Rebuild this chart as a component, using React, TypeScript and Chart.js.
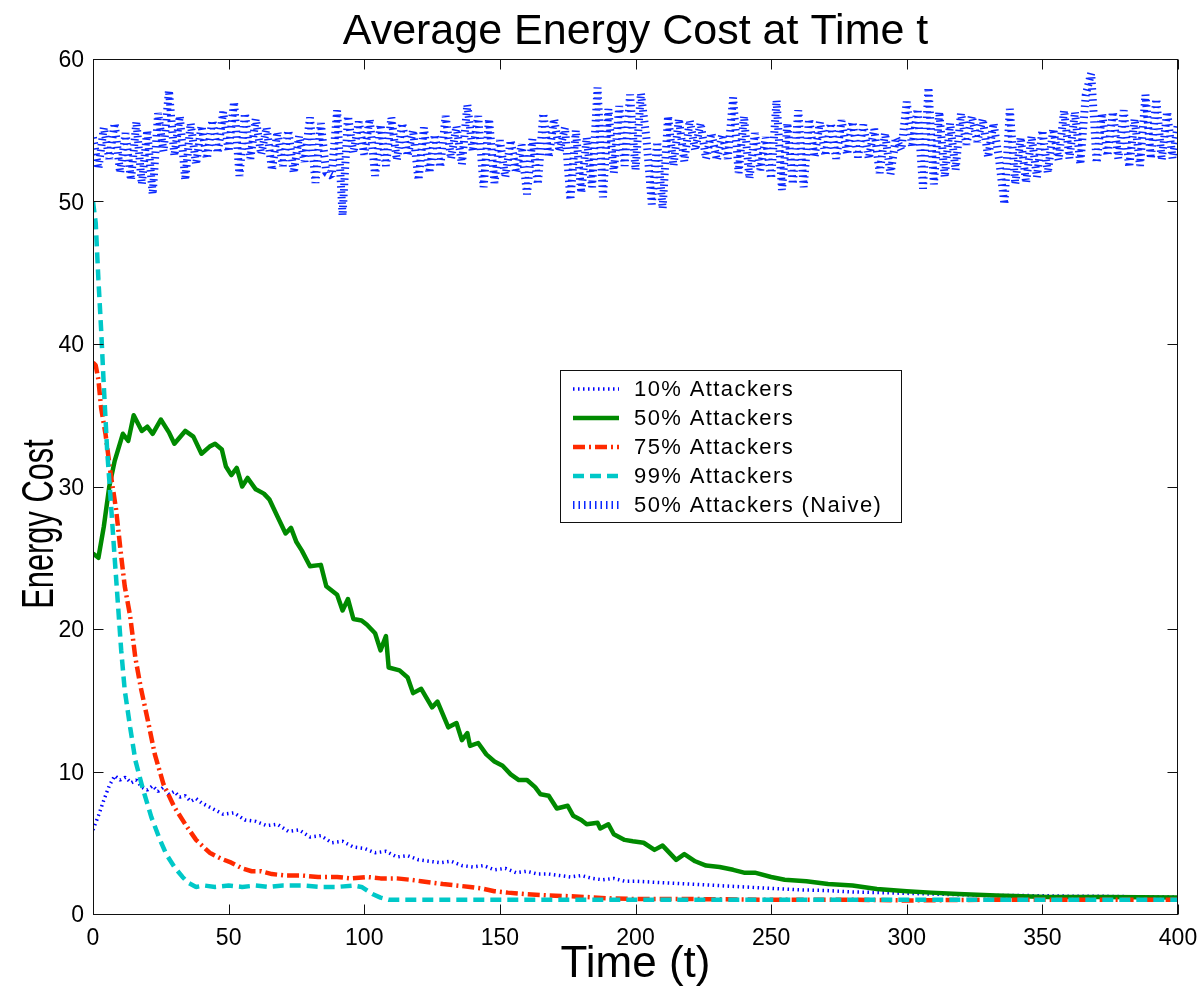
import React, { useEffect, useRef } from 'react';
import { Chart, registerables } from 'chart.js';

Chart.register(...registerables);

const TITLE = 'Average Energy Cost at Time t';
const X_LABEL = 'Time (t)';
const Y_LABEL = 'Energy Cost';
const X_TICKS = [0, 50, 100, 150, 200, 250, 300, 350, 400];
const Y_TICKS = [0, 10, 20, 30, 40, 50, 60];
const SERIES_NAMES = ['10% Attackers', '50% Attackers', '75% Attackers', '99% Attackers', '50% Attackers (Naive)'];

// 10% attackers
const t10 = [0, 2, 4, 6, 8, 10, 12, 14, 16, 18, 20, 22, 24, 26, 28, 30, 32, 34, 36, 38, 40,
  44, 48, 52, 56, 60, 64, 68, 72, 76, 80, 84, 88, 92, 96, 100,
  104, 108, 112, 116, 120, 124, 128, 132, 136, 140, 144, 148, 152, 156, 160, 164, 168, 172, 176, 180, 184, 188, 192, 196, 200,
  210, 220, 230, 240, 250, 260, 270, 280, 290, 300, 310, 320, 330, 340, 350, 360, 370, 380, 390, 400];
const v10 = [5.9, 6.9, 8.0, 9.0, 9.7, 9.4, 9.6, 9.2, 9.4, 8.9, 8.7, 9.0, 8.6, 8.9, 8.4, 8.6, 8.2, 8.3, 7.9, 8.1, 7.8,
  7.4, 7.0, 7.1, 6.6, 6.5, 6.2, 6.3, 5.8, 5.9, 5.4, 5.5, 5.0, 5.1, 4.7, 4.6,
  4.3, 4.4, 4.0, 4.1, 3.8, 3.7, 3.6, 3.7, 3.4, 3.3, 3.4, 3.1, 3.2, 2.9, 3.0, 2.8, 2.8, 2.7, 2.6, 2.7, 2.5, 2.4, 2.5, 2.3, 2.3,
  2.2, 2.1, 2.0, 1.9, 1.8, 1.7, 1.65, 1.55, 1.5, 1.45, 1.4, 1.35, 1.3, 1.3, 1.28, 1.25, 1.25, 1.22, 1.2, 1.2];

// 50% attackers
const t50 = [0, 2, 4, 6, 8, 11, 13, 15, 18, 20, 22, 25, 28, 30, 34, 37, 40, 43, 45, 47.5, 49, 51, 53, 55, 57, 60, 63, 65, 68, 71, 73, 75, 77, 80, 84, 86, 90, 92, 94, 96, 99, 101, 104, 106, 108, 109, 113, 116, 118, 121, 125, 127, 131, 134, 136, 138, 139, 142, 145, 148, 151, 154, 157, 160, 163, 165, 168, 171, 175, 177, 180, 182, 186, 187, 190, 192, 196, 199, 203, 207, 210, 215, 218, 222, 226, 231, 236, 240, 244, 250, 255, 263, 271, 280, 289, 300, 309, 319, 333, 352, 372, 400];
const v50 = [25.3, 25.0, 27.2, 30.0, 31.8, 33.7, 33.2, 35.0, 33.9, 34.2, 33.7, 34.7, 33.8, 33.0, 33.9, 33.5, 32.3, 32.8, 33.0, 32.6, 31.4, 30.8, 31.3, 30.0, 30.6, 29.8, 29.5, 29.1, 27.9, 26.7, 27.1, 26.1, 25.5, 24.4, 24.5, 23.0, 22.4, 21.3, 22.1, 20.7, 20.6, 20.3, 19.7, 18.5, 19.5, 17.3, 17.1, 16.6, 15.5, 15.8, 14.5, 14.9, 13.1, 13.4, 12.2, 12.7, 11.8, 12.0, 11.2, 10.7, 10.4, 9.8, 9.4, 9.4, 8.9, 8.4, 8.3, 7.4, 7.6, 6.9, 6.6, 6.3, 6.4, 6.0, 6.3, 5.6, 5.2, 5.1, 5.0, 4.5, 4.8, 3.8, 4.2, 3.7, 3.4, 3.3, 3.1, 2.9, 2.9, 2.6, 2.4, 2.3, 2.1, 2.0, 1.75, 1.6, 1.5, 1.4, 1.3, 1.2, 1.2, 1.15];

// 75% attackers
const t75 = [0, 1, 2, 3, 4.6, 6.5, 8.5, 10.4, 11.7, 13.7, 15.6, 17.6, 20.2, 22.8, 26, 30, 34, 38, 43, 47, 51, 55, 58.5, 62, 66, 71, 77, 83, 90, 95, 101, 106, 112, 117, 121, 125, 129, 134, 139, 143, 148, 153, 159, 168, 175, 181, 190, 200, 220, 250, 280, 300, 330, 360, 400];
const v75 = [38.7, 38.5, 37.5, 35.5, 33.7, 30.9, 28.4, 25.1, 23.0, 20.9, 18.0, 15.9, 13.6, 11.2, 9.1, 7.5, 6.3, 5.2, 4.3, 3.9, 3.6, 3.2, 3.0, 3.0, 2.8, 2.7, 2.7, 2.6, 2.6, 2.5, 2.6, 2.5, 2.5, 2.4, 2.3, 2.2, 2.1, 2.0, 1.9, 1.8, 1.6, 1.5, 1.4, 1.3, 1.25, 1.2, 1.1, 1.05, 1.05, 1.0, 1.0, 0.95, 1.0, 1.0, 1.0];

// 99% attackers
const t99 = [0, 1, 2, 3, 4, 5.2, 6.5, 7.8, 9.1, 10.4, 11.7, 13.7, 15.6, 18.2, 21.5, 24.7, 27, 30, 33, 35, 38, 41, 45, 50, 55, 60, 65, 70, 77, 84, 90, 96, 99, 103, 106, 109, 400];
const v99 = [50.0, 48.5, 44.5, 41.0, 37.0, 32.6, 29.1, 25.5, 22.0, 18.5, 15.7, 13.1, 10.8, 8.9, 6.8, 5.2, 4.2, 3.3, 2.6, 2.2, 1.9, 2.0, 1.9, 2.0, 1.9, 2.0, 1.9, 2.0, 2.0, 1.9, 1.9, 2.0, 1.9, 1.4, 1.15, 1.0, 1.0];

// 50% attackers (naive)
const tNaive = [0, 2, 4, 6, 8, 10, 12, 14, 16, 18, 20, 22, 24, 26, 28, 30, 32, 34, 36, 38, 40, 42, 44, 46, 48, 50, 52, 54, 56, 58, 60, 62, 64, 66, 68, 70, 72, 74, 76, 78, 80, 82, 84, 86, 88, 90, 92, 94, 96, 98, 100, 102, 104, 106, 108, 110, 112, 114, 116, 118, 120, 122, 124, 126, 128, 130, 132, 134, 136, 138, 140, 142, 144, 146, 148, 150, 152, 154, 156, 158, 160, 162, 164, 166, 168, 170, 172, 174, 176, 178, 180, 182, 184, 186, 188, 190, 192, 194, 196, 198, 200, 202, 204, 206, 208, 210, 212, 214, 216, 218, 220, 222, 224, 226, 228, 230, 232, 234, 236, 238, 240, 242, 244, 246, 248, 250, 252, 254, 256, 258, 260, 262, 264, 266, 268, 270, 272, 274, 276, 278, 280, 282, 284, 286, 288, 290, 292, 294, 296, 298, 300, 302, 304, 306, 308, 310, 312, 314, 316, 318, 320, 322, 324, 326, 328, 330, 332, 334, 336, 338, 340, 342, 344, 346, 348, 350, 352, 354, 356, 358, 360, 362, 364, 366, 368, 370, 372, 374, 376, 378, 380, 382, 384, 386, 388, 390, 392, 394, 396, 398, 400];
const vNaive = [
  54.5, 52.3, 55.2, 53.0,
  55.5, 52.0, 54.8, 51.5,
  55.6, 51.2, 55.0, 50.5,
  56.2, 53.5, 57.8, 53.2,
  56.0, 51.5, 55.5, 52.6,
  55.3, 53.0, 55.7, 53.4,
  56.3, 53.5, 57.0, 51.8,
  56.2, 53.0, 55.8, 53.3,
  55.2, 52.2, 54.9, 52.5,
  55.0, 52.0, 54.6, 52.8,
  55.9, 51.3, 55.5, 52.0,
  51.8, 56.4, 49.0, 56.0,
  53.4, 55.6, 53.3, 55.8,
  51.8, 55.4, 52.5, 55.9,
  52.9, 55.5, 53.2, 55.0,
  51.5, 55.2, 52.0, 54.7,
  52.4, 56.0, 53.0, 55.3,
  52.6, 56.8, 53.5, 56.0,
  51.0, 55.8, 51.3, 54.3,
  51.7, 54.3, 52.0, 54.0,
  50.5, 54.4, 51.2, 56.2,
  53.1, 55.8, 53.5, 55.2,
  50.1, 55.0, 50.6, 54.5,
  51.0, 58.0, 50.3, 56.5,
  52.0, 56.7, 52.5, 57.5,
  52.2, 57.6, 54.5, 49.8,
  54.2, 49.5, 56.0, 52.5,
  55.8, 52.8, 55.7, 53.6,
  55.5, 53.0, 54.8, 52.9,
  54.7, 53.0, 57.3, 52.0,
  56.0, 51.6, 54.8, 52.2,
  54.5, 51.6, 57.1, 50.8,
  55.5, 51.2, 56.4, 51.0,
  55.8, 53.1, 55.6, 53.2,
  55.5, 53.0, 55.7, 53.3,
  55.6, 53.1, 55.4, 53.0,
  55.1, 52.0, 54.8, 51.9,
  54.5, 53.6, 57.0, 53.8,
  56.5, 50.9, 58.0, 51.2,
  56.3, 51.7, 55.5, 52.2,
  56.2, 54.0, 56.0, 54.2,
  55.8, 53.1, 55.5, 53.0,
  49.8, 56.5, 51.2, 54.5,
  51.3, 54.6, 51.7, 55.0,
  52.0, 55.1, 52.9, 56.4,
  53.0, 56.3, 52.6, 57.5,
  59.0, 52.7, 56.2, 53.2,
  56.3, 53.0, 56.4, 52.4,
  55.8, 52.5, 57.5, 53.0,
  57.2, 52.9, 56.3, 53.0,
  55.5];

const COLORS = ['#0000ff', '#008a00', '#ff2a00', '#00c8c8', '#0a28ff'];
const WIDTHS = [3.5, 4.5, 4.5, 4.5, 8];
const DASHES: number[][] = [[1.5, 3.5], [], [12, 4, 2, 4], [11, 6], [1.5, 4]];

const pts = (t: number[], v: number[]) => t.map((x, i) => ({ x, y: v[i] }));

const FONT = '"Liberation Sans", Arial, Helvetica, sans-serif';

const decorPlugin = {
  id: 'matlabDecor',
  afterDraw(chart: any) {
    const { ctx, chartArea: ca, scales } = chart;
    const xs = scales.x;
    const ys = scales.y;
    ctx.save();
    const L = Math.round(ca.left) + 0.5;
    const T = Math.round(ca.top) + 0.5;
    const R = Math.round(ca.right) - 0.5;
    const B = Math.round(ca.bottom) + 0.5;
    ctx.strokeStyle = '#111';
    ctx.lineWidth = 1;
    ctx.setLineDash([]);
    ctx.strokeRect(L, T, R - L, B - T);
    ctx.beginPath();
    X_TICKS.forEach((v) => {
      const px = Math.round(xs.getPixelForValue(v)) + 0.5;
      ctx.moveTo(px, B); ctx.lineTo(px, B - 10);
      ctx.moveTo(px, T); ctx.lineTo(px, T + 10);
    });
    Y_TICKS.forEach((v) => {
      const py = Math.round(ys.getPixelForValue(v)) + 0.5;
      ctx.moveTo(L, py); ctx.lineTo(L + 10, py);
      ctx.moveTo(R, py); ctx.lineTo(R - 10, py);
    });
    ctx.stroke();
    ctx.fillStyle = '#000';
    ctx.font = `23px ${FONT}`;
    ctx.textBaseline = 'alphabetic';
    ctx.textAlign = 'center';
    X_TICKS.forEach((v) => {
      ctx.fillText(String(v), xs.getPixelForValue(v), ca.bottom + 31);
    });
    ctx.textAlign = 'right';
    Y_TICKS.forEach((v) => {
      ctx.fillText(String(v), ca.left - 9, ys.getPixelForValue(v) + 8);
    });
    ctx.textAlign = 'center';
    ctx.font = `43px ${FONT}`;
    ctx.fillText(TITLE, (ca.left + ca.right) / 2, 44);
    ctx.font = `44px ${FONT}`;
    ctx.fillText(X_LABEL, (ca.left + ca.right) / 2, 977);
    ctx.save();
    ctx.translate(53, 524);
    ctx.rotate(-Math.PI / 2);
    ctx.scale(0.7, 1);
    ctx.fillText(Y_LABEL, 0, 0);
    ctx.restore();
    const bx = 560.5, by = 370.5, bw = 341, bh = 152;
    ctx.fillStyle = '#fff';
    ctx.fillRect(bx, by, bw, bh);
    ctx.strokeStyle = '#111';
    ctx.lineWidth = 1;
    ctx.strokeRect(bx, by, bw, bh);
    ctx.font = `22px ${FONT}`;
    (ctx as any).letterSpacing = '1.4px';
    ctx.textAlign = 'left';
    ctx.textBaseline = 'middle';
    SERIES_NAMES.forEach((name, i) => {
      const yy = 389 + i * 29;
      ctx.save();
      ctx.strokeStyle = COLORS[i];
      ctx.lineWidth = WIDTHS[i];
      ctx.lineCap = 'butt';
      ctx.setLineDash(DASHES[i]);
      ctx.beginPath();
      ctx.moveTo(573, yy);
      ctx.lineTo(619, yy);
      ctx.stroke();
      ctx.restore();
      ctx.fillStyle = '#000';
      ctx.fillText(name, 634, yy + 1);
    });
    (ctx as any).letterSpacing = '0px';
    ctx.restore();
  },
};

export default function App() {
  const canvasRef = useRef<HTMLCanvasElement | null>(null);

  useEffect(() => {
    const canvas = canvasRef.current;
    if (!canvas) return;
    const series = [pts(t10, v10), pts(t50, v50), pts(t75, v75), pts(t99, v99), pts(tNaive, vNaive)];
    const chart = new Chart(canvas, {
      type: 'line',
      data: {
        datasets: series.map((data, i) => ({
          label: SERIES_NAMES[i],
          data,
          borderColor: COLORS[i],
          backgroundColor: COLORS[i],
          borderWidth: WIDTHS[i],
          borderDash: DASHES[i],
          borderCapStyle: 'butt',
          borderJoinStyle: i === 1 ? 'round' : 'bevel',
          pointRadius: 0,
          tension: 0,
          fill: false,
          order: 5 - i,
        })),
      },
      options: {
        animation: false,
        responsive: false,
        devicePixelRatio: 1,
        events: [],
        layout: { padding: { left: 93, top: 59, right: 22, bottom: 74 } },
        scales: {
          x: { type: 'linear', min: 0, max: 400, display: false },
          y: { type: 'linear', min: 0, max: 60, display: false },
        },
        plugins: {
          legend: { display: false },
          tooltip: { enabled: false },
          title: { display: false },
        },
      },
      plugins: [decorPlugin],
    } as any);
    return () => chart.destroy();
  }, []);

  return (
    <div style={{ position: 'fixed', left: 0, top: 0, width: 1200, height: 988, background: '#fff' }}>
      <canvas ref={canvasRef} width={1200} height={988} style={{ display: 'block' }} />
    </div>
  );
}
